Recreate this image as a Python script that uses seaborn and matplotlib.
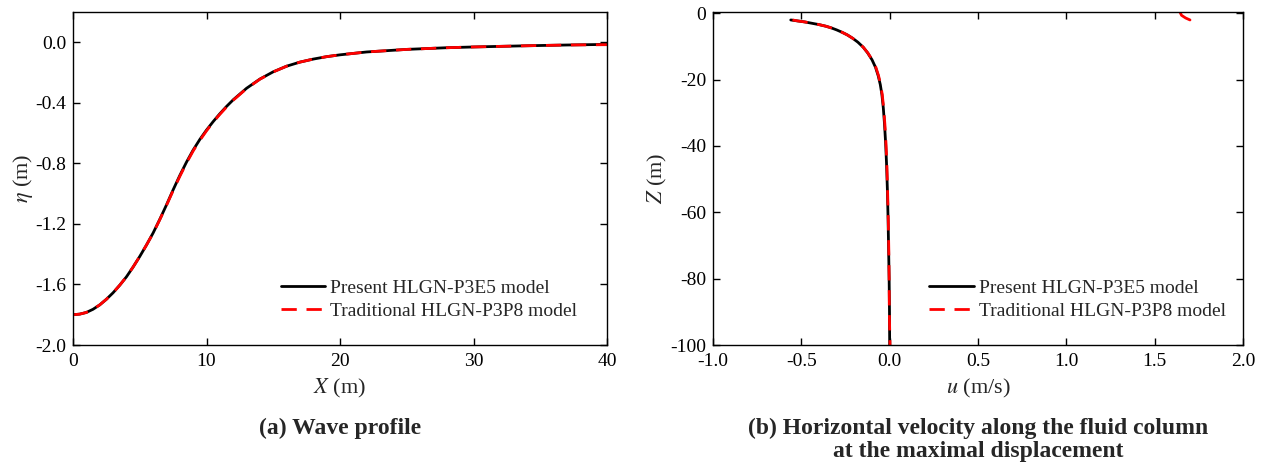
import matplotlib
matplotlib.use("Agg")
import matplotlib.pyplot as plt
import numpy as np
import pandas as pd
import seaborn as sns

# (a) wave profile, eta vs X
wave_x = [0, 0.5, 1, 1.5, 2, 2.5, 3, 3.5, 4, 4.5, 5, 5.5, 6, 6.5, 7, 7.5, 8, 8.5,
          9, 9.5, 10, 10.5, 11, 11.5, 12, 13, 14, 15, 16, 17, 18, 19, 20, 22, 25,
          28, 30, 34, 37, 40]
eta_present = [-1.800, -1.796, -1.785, -1.764, -1.735, -1.698, -1.655, -1.605, -1.550,
               -1.485, -1.415, -1.340, -1.260, -1.170, -1.075, -0.975, -0.880, -0.792,
               -0.712, -0.642, -0.580, -0.524, -0.472, -0.424, -0.380, -0.304, -0.243,
               -0.195, -0.158, -0.131, -0.111, -0.095, -0.083, -0.064, -0.047, -0.036,
               -0.031, -0.023, -0.018, -0.014]
eta_traditional = [-1.800, -1.796, -1.785, -1.764, -1.735, -1.698, -1.655, -1.605, -1.550,
                   -1.485, -1.415, -1.340, -1.262, -1.172, -1.078, -0.980, -0.886, -0.798,
                   -0.718, -0.648, -0.585, -0.528, -0.476, -0.428, -0.383, -0.306, -0.244,
                   -0.196, -0.158, -0.131, -0.111, -0.095, -0.083, -0.064, -0.047, -0.036,
                   -0.031, -0.023, -0.018, -0.016]

# (b) horizontal velocity along the column, u vs Z
z_col = [-2.0, -2.3, -2.6, -3.0, -3.4, -3.9, -4.4, -5.0, -5.7, -6.5, -7.5, -8.7,
         -10.2, -11.9, -14.0, -16.3, -18.8, -21.5, -24.5, -28.5, -33.5, -39, -45,
         -53, -62, -71, -80, -90, -100]
u_present = [-0.56, -0.52, -0.48, -0.44, -0.40, -0.36, -0.33, -0.30, -0.27, -0.24,
             -0.21, -0.18, -0.15, -0.125, -0.100, -0.080, -0.065, -0.053, -0.044,
             -0.036, -0.029, -0.023, -0.018, -0.013, -0.009, -0.006, -0.003, -0.001, 0.0]
u_traditional = [-0.55, -0.52, -0.48, -0.44, -0.40, -0.36, -0.33, -0.30, -0.27, -0.24,
                 -0.21, -0.18, -0.15, -0.124, -0.099, -0.078, -0.063, -0.051, -0.042,
                 -0.034, -0.027, -0.021, -0.016, -0.012, -0.008, -0.005, -0.003, -0.002,
                 0.002]
# short piece near the surface at the right
z_top = [0.4, -0.6, -1.4, -2.0]
u_top = [1.643, 1.652, 1.675, 1.70]

labels = ["Present HLGN-P3E5 model", "Traditional HLGN-P3P8 model"]

sns.set_style("ticks")
plt.rcParams["font.family"] = ["Liberation Serif", "DejaVu Serif"]
plt.rcParams["mathtext.fontset"] = "stix"

fig = plt.figure(figsize=(12.71, 4.70), dpi=100)
ax1 = fig.add_axes([73 / 1271, 1 - 345 / 470, 534 / 1271, 333 / 470])
ax2 = fig.add_axes([713 / 1271, 1 - 345 / 470, 530 / 1271, 333 / 470])

dash = (5.5, 3.5)

df_a = pd.DataFrame({"x": wave_x, "present": eta_present, "traditional": eta_traditional})
sns.lineplot(data=df_a, x="x", y="present", ax=ax1, color="black", lw=2.0, label=labels[0])
sns.lineplot(data=df_a, x="x", y="traditional", ax=ax1, color="red", lw=2.0,
             dashes=dash, label=labels[1])

df_b = pd.DataFrame({"z": z_col, "present": u_present, "traditional": u_traditional})
sns.lineplot(data=df_b, x="present", y="z", ax=ax2, sort=False, estimator=None,
             color="black", lw=2.0, label=labels[0])
sns.lineplot(data=df_b, x="traditional", y="z", ax=ax2, sort=False, estimator=None,
             color="red", lw=2.0, dashes=dash, label=labels[1])
sns.lineplot(x=u_top, y=z_top, ax=ax2, sort=False, estimator=None,
             color="red", lw=2.0, legend=False)

ax1.set_xlim(0, 40)
ax1.set_ylim(-2.0, 0.2)
ax1.set_xticks([0, 10, 20, 30, 40])
ax1.set_yticks([-2.0, -1.6, -1.2, -0.8, -0.4, 0.0])
ax1.set_yticklabels(["-2.0", "-1.6", "-1.2", "-0.8", "-0.4", "0.0"])
ax1.set_xlabel(r"$X$ (m)", fontsize=16, labelpad=5)
ax1.set_ylabel(r"$\eta$ (m)", fontsize=16, labelpad=0)

ax2.set_xlim(-1.0, 2.0)
ax2.set_ylim(-100, 0.4)
ax2.set_xticks([-1.0, -0.5, 0.0, 0.5, 1.0, 1.5, 2.0])
ax2.set_xticklabels(["-1.0", "-0.5", "0.0", "0.5", "1.0", "1.5", "2.0"])
ax2.set_yticks([-100, -80, -60, -40, -20, 0])
ax2.set_yticklabels(["-100", "-80", "-60", "-40", "-20", "0"])
ax2.set_xlabel(r"$u$ (m/s)", fontsize=16, labelpad=5)
ax2.set_ylabel(r"$Z$ (m)", fontsize=16, labelpad=1)

legend_x = {ax1: 0.966, ax2: 0.99}
for ax in (ax1, ax2):
    for sp in ax.spines.values():
        sp.set_visible(True)
        sp.set_linewidth(1.0)
        sp.set_color("black")
    ax.tick_params(direction="in", top=True, right=True, length=5, width=1,
                   labelsize=14, colors="black")
    ax.tick_params(axis="x", pad=6)
    ax.tick_params(axis="y", pad=5)
    ax.legend(loc="lower right", bbox_to_anchor=(legend_x[ax], 0.04), frameon=False,
              fontsize=14, handlelength=2.3, handletextpad=0.25, labelspacing=0.3,
              borderaxespad=0.2)

fig.text((73 + 607) / 2 / 1271, 1 - 418 / 470, "(a) Wave profile", ha="center", va="top",
         fontsize=17, fontweight="bold")
fig.text((713 + 1243) / 2 / 1271, 1 - 418 / 470,
         "(b) Horizontal velocity along the fluid column\nat the maximal displacement",
         ha="center", va="top", fontsize=17, fontweight="bold", linespacing=1.1)

fig.savefig("out.png", dpi=100)
